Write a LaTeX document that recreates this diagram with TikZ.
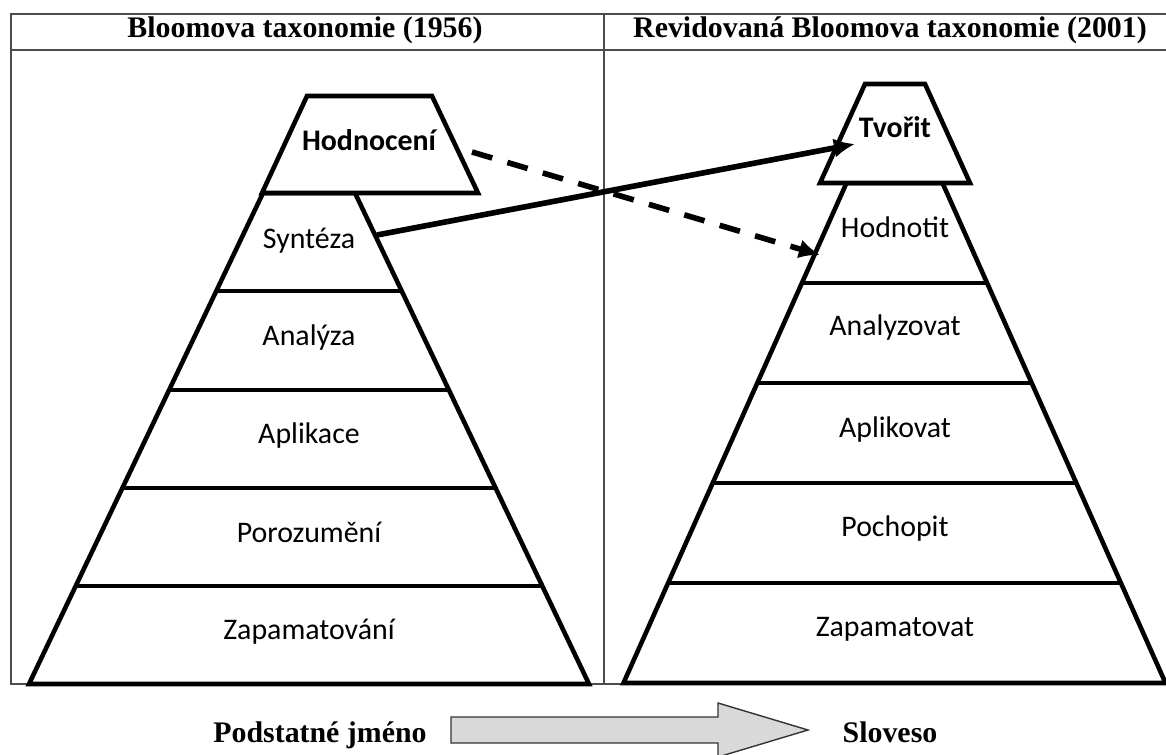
\documentclass[tikz,border=0pt]{standalone}
\usepackage{fontspec}
\setmainfont{Liberation Serif}
\newfontfamily\calibri{Carlito}
\usepackage{tikz}
\usetikzlibrary{calc,arrows.meta}

\begin{document}
\begin{tikzpicture}[x=0.02cm,y=-0.02cm,
    frame/.style={draw=gray!60!black,line width=0.9pt},
    pyr/.style={draw,line width=2.6pt,fill=white},
    shift arrow/.style={-{Latex[length=12pt,width=11pt]},line width=3.2pt},
    lbl/.style={font=\calibri\fontsize{17}{20}\selectfont,text height=0.64em,text depth=0pt,inner sep=0pt},
    toplbl/.style={lbl,font=\calibri\bfseries\fontsize{17}{20}\selectfont},
    hdr/.style={font=\bfseries\fontsize{17}{20}\selectfont,text height=0.66em,text depth=0pt,inner sep=0pt}]
                      \useasboundingbox (0,0) rectangle (1166,754);
                      % table
                      \draw[frame] (1166,14) -- (11,14) -- (11,684) -- (1166,684);
                      \draw[frame] (11,50) -- (1166,50);
                      \draw[frame] (604,14) -- (604,684);
                      \node[hdr](hdrA)at(305,32){Bloomova taxonomie (1956)};
                      \node[hdr](hdrB)at(890,32){Revidovaná Bloomova taxonomie (2001)};
                      % 1956
                      \draw[pyr] (29,684) -- (263,193) -- (355,193) -- (589,684) -- cycle;
                      \draw[pyr] (216.3,291) -- (401.7,291);
                      \draw[pyr] (169.1,390) -- (448.9,390);
                      \draw[pyr] (122.4,488) -- (495.6,488);
                      \draw[pyr] (75.7,586) -- (542.3,586);
                      \draw[pyr] (307,96) -- (432,96) -- (478,193) -- (262,193) -- cycle;
                      \node[toplbl](hodnoceni)at(369,145){Hodnocení};
                      \node[lbl](synteza)at(309,243){Syntéza};
                      \node[lbl](analyza)at(309,340){Analýza};
                      \node[lbl](aplikace)at(309,438){Aplikace};
                      \node[lbl](porozumeni)at(309,537){Porozumění};
                      \node[lbl](zapamatovani)at(309,634){Zapamatování};
                      % 2001
                      \draw[pyr] (623.5,683) -- (846.5,183) -- (942.5,183) -- (1165.5,683) -- cycle;
                      \draw[pyr] (801.9,283) -- (987.1,283);
                      \draw[pyr] (757.3,383) -- (1031.7,383);
                      \draw[pyr] (712.7,483) -- (1076.3,483);
                      \draw[pyr] (668.1,583) -- (1120.9,583);
                      \draw[pyr] (865,84) -- (925,84) -- (970,183) -- (820,183) -- cycle;
                      \node[toplbl](tvorit)at(895,132){Tvořit};
                      \node[lbl](hodnotit)at(895,232){Hodnotit};
                      \node[lbl](analyzovat)at(895,330){Analyzovat};
                      \node[lbl](aplikovat)at(895,432){Aplikovat};
                      \node[lbl](pochopit)at(895,531){Pochopit};
                      \node[lbl](zapamatovat)at(895,631){Zapamatovat};
                      % shifts
                      \coordinate (synR) at (377,235);
                      \coordinate (tvoL) at (855,144);
                      \coordinate (hodR) at (472,152);
                      \coordinate (hdtL) at (820,255);
                      \draw[shift arrow] (synR) -- (tvoL);
                      \draw[shift arrow,dash pattern=on 12pt off 9pt] (hodR) -- (hdtL);
                      % noun -> verb
                      \node[hdr](noun)at(320,737){Podstatné jméno};
                      \node[hdr](verb)at(890,737){Sloveso};
                      \draw[fill=gray!30,draw=gray!40!black,line width=0.8pt] (451,717) -- (718,717) -- (718,703) -- (808,730) -- (718,757) -- (718,743) -- (451,743) -- cycle;
                  \end{tikzpicture}
\end{document}
